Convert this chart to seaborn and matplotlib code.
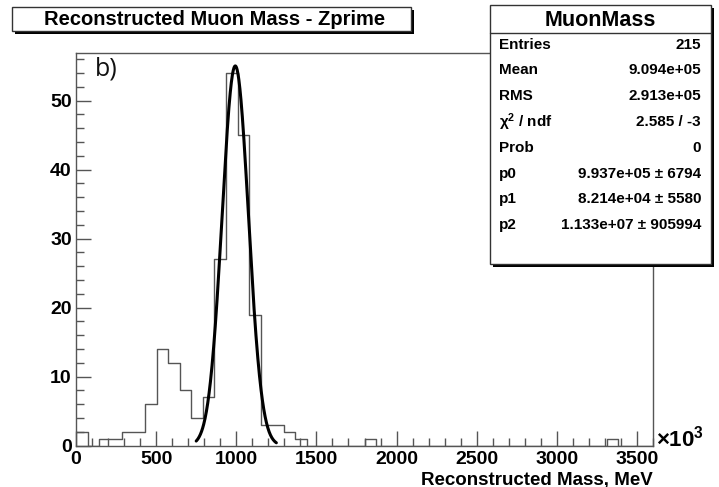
import numpy as np
import pandas as pd
import matplotlib
matplotlib.use("Agg")
import matplotlib.pyplot as plt
from matplotlib.ticker import MultipleLocator
from matplotlib.patches import Rectangle
import seaborn as sns

# histogram: 50 bins of 72 (x10^3 MeV) from 0 to 3600
bin_width = 72
bin_range = (0, 3600)
counts = [2, 0, 1, 1, 2, 2, 6, 14, 12, 8, 4, 7, 27, 54, 45, 19, 3, 3, 2, 1,
          0, 0, 0, 0, 0, 1, 0, 0, 0, 0, 0, 0, 0, 0, 0, 0, 0, 0, 0, 0,
          0, 0, 0, 0, 0, 0, 1, 0, 0, 0]

# gaussian fit (mean, sigma, area) in x10^3 MeV units
fit_mean = 993.7
fit_sigma = 82.14
fit_area = 11330.0
fit_range = (750, 1250)

stat_labels = ["Entries", "Mean", "RMS", "χ$^{2}$ / ndf", "Prob", "p0", "p1", "p2"]
stat_values = ["215", "9.094e+05", "2.913e+05", "2.585 / -3", "0",
               "9.937e+05 ± 6794", "8.214e+04 ± 5580", "1.133e+07 ± 905994"]

sns.set_theme(style="white")
plt.rcParams["font.family"] = ["Liberation Sans", "DejaVu Sans"]
plt.rcParams["mathtext.fontset"] = "custom"
plt.rcParams["mathtext.rm"] = "Liberation Sans:bold"
plt.rcParams["mathtext.it"] = "Liberation Sans:bold"
plt.rcParams["text.color"] = "black"

fig = plt.figure(figsize=(7.19, 4.87), dpi=100)
ax = fig.add_axes([76 / 719, 1 - 445.7 / 487, (653 - 76) / 719, (445.7 - 53) / 487])

centers = bin_range[0] + bin_width * (np.arange(len(counts)) + 0.5)
df = pd.DataFrame({"mass": centers, "count": counts})
sns.histplot(data=df, x="mass", weights="count", binwidth=bin_width, binrange=bin_range,
             element="step", fill=False, color="#555555", linewidth=1.0, ax=ax)

xf = np.linspace(fit_range[0], fit_range[1], 300)
yf = fit_area / (np.sqrt(2 * np.pi) * fit_sigma) * np.exp(-0.5 * ((xf - fit_mean) / fit_sigma) ** 2)
sns.lineplot(x=xf, y=yf, color="black", linewidth=2.2, ax=ax)

ax.set_xlim(0, 3600)
ax.set_ylim(0, 56.9)
ax.set_xlabel("")
ax.set_ylabel("")
ax.xaxis.set_major_locator(MultipleLocator(500))
ax.xaxis.set_minor_locator(MultipleLocator(100))
ax.yaxis.set_major_locator(MultipleLocator(10))
ax.yaxis.set_minor_locator(MultipleLocator(2))
ax.tick_params(which="both", direction="in", color="#555555", width=1.0)
ax.tick_params(which="major", length=11, labelsize=14, labelcolor="black")
ax.tick_params(axis="x", which="major", pad=4)
ax.tick_params(axis="y", which="major", pad=3)
ax.tick_params(which="minor", length=6)
ax.tick_params(axis="both", which="both", bottom=True, left=True, top=False, right=False)
for lab in ax.get_xticklabels() + ax.get_yticklabels():
    lab.set_fontweight("bold")
for sp in ax.spines.values():
    sp.set_color("#555555")
    sp.set_linewidth(1.0)

fig.text(653 / 719, 1 - 480 / 487, "Reconstructed Mass, MeV", ha="right", va="center",
         fontsize=13.5, fontweight="bold")
fig.text(656 / 719, 1 - 439 / 487, "×10$^{3}$", ha="left", va="center", fontsize=16,
         fontweight="bold")
fig.text(95 / 719, 1 - 69 / 487, "b)", ha="left", va="center",
         fontsize=18, family=["Open Sans", "DejaVu Sans"], color="#111111")

# title box with shadow
def shadow_box(x0, y0, x1, y1):
    W, H = 719, 487
    fig.patches.append(Rectangle((x0 / W + 3 / W, 1 - (y1 + 3) / H), (x1 - x0) / W, (y1 - y0) / H,
                                 transform=fig.transFigure, facecolor="black", edgecolor="none"))
    fig.patches.append(Rectangle((x0 / W, 1 - y1 / H), (x1 - x0) / W, (y1 - y0) / H,
                                 transform=fig.transFigure, facecolor="white", edgecolor="#333333",
                                 linewidth=1.0))

shadow_box(12, 7, 411, 31)
fig.text(215 / 719, 1 - 19.5 / 487, "Reconstructed Muon Mass - Zprime", ha="center", va="center",
         fontsize=14.5, fontweight="bold")

# stats box
shadow_box(490, 5, 711, 264)
fig.text(600 / 719, 1 - 20 / 487, "MuonMass", ha="center", va="center", fontsize=15.5,
         fontweight="bold")
fig.lines.append(plt.Line2D([490 / 719, 711 / 719], [1 - 33 / 487, 1 - 33 / 487],
                            transform=fig.transFigure, color="#333333", linewidth=1.0))
row_y = [45, 70, 96, 122, 148, 174, 199, 225]
for lab, val, yy in zip(stat_labels, stat_values, row_y):
    fig.text(499 / 719, 1 - yy / 487, lab, ha="left", va="center", fontsize=11, fontweight="bold")
    fig.text(701 / 719, 1 - yy / 487, val, ha="right", va="center", fontsize=11, fontweight="bold")

fig.savefig("out.png", dpi=100)
